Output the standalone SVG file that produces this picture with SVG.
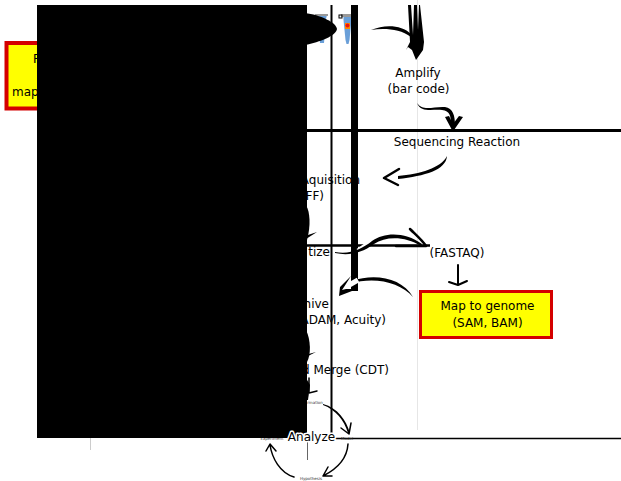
<svg xmlns="http://www.w3.org/2000/svg" width="621" height="481" viewBox="0 0 621 481">
<style>
text{font-family:"DejaVu Sans",sans-serif;font-size:12px;fill:#000;text-anchor:middle}
.e{text-anchor:end}
.s{text-anchor:start}
.tiny{font-size:4px;fill:#333}
.box{fill:#ff0;stroke:#d40000;stroke-width:4}
.c{fill:none;stroke:#000;stroke-linecap:round;stroke-linejoin:round}
.b{fill:#000;stroke:none}
.halo{fill:none;stroke:#fff;stroke-width:5}
</style>
<rect width="621" height="481" fill="#fff"/>
<g id="guides">
<path d="M417.500 0V430" stroke="#e6e6e6" stroke-width="1" fill="none"/>
<path d="M90.500 437V450" stroke="#ccc" stroke-width="1" fill="none"/>
<path d="M307.500 437V460" stroke="#666" stroke-width="1" fill="none"/>
</g>
<g id="node-left">
<rect class="box" x="6.500" y="43" width="60" height="65.500"/>
<text class="s" x="33" y="63">P</text>
<text class="s" x="12" y="96">map</text>
</g>
<g id="node-tubes">
<path d="M317 15h10l-1 4-2 24h-4l-3-24z" fill="#6a9fd8"/>
<path d="M315 14h13v2h-13z" fill="#999"/>
<path d="M343.500 17h8v3l-2 20-1 4h-2l-1-4-2-20z" fill="#6a9fd8"/>
<path d="M341 14h11v3h-11z" fill="#999"/>
<rect x="339" y="15" width="3" height="3" fill="none" stroke="#000" stroke-width="1"/>
<rect x="345" y="23" width="5" height="6" fill="#f80"/>
<circle cx="347.500" cy="25.500" r="2" fill="#e11"/>
</g>
<g id="connectors">
<path d="M331.500 5V438" stroke="#000" stroke-width="2" fill="none"/>
<path d="M354.500 5V291" stroke="#000" stroke-width="7" fill="none"/>
<path d="M307 130.500H621" stroke="#000" stroke-width="3" fill="none"/>
<path d="M307 245.500H430" stroke="#000" stroke-width="2.500" fill="none"/>
<path d="M331 438.500H621" stroke="#000" stroke-width="1.500" fill="none"/>
<path class="b" d="M371 30C385 24 402 25 411 34L411 37C400 29 385 28 371 30Z"/>
<path class="b" d="M408 5H411L413 35L414 5H417L418 30L419 5H420L424 42L423 50L416 60L412 50L408 47L406 50L410 42Z"/>
<path class="b" d="M417 103C423 112 434 106 445 107C453 108 455 116 455 125L451 125C451 116 450 111 442 110C432 109 421 113 417 103Z"/>
<path class="b" d="M445 117L449 116L453 124L459 116L463 117L454 130H452Z"/>
<path class="b" d="M447 156C446 170 425 176 398 179L398 176C420 174 441 168 447 156Z"/>
<path class="c" stroke-width="2.500" d="M399 169L384 178L398 185"/>
<path class="halo" d="M358 251L368 244"/>
<path class="b" d="M335 252C350 255 362 249 372 241C385 232 405 232 422 244L421 246C405 236 386 236 374 244C362 253 349 256 335 253Z"/>
<path class="c" stroke-width="2.500" d="M410 229C416 235 422 240 426 246H396"/>
<path class="c" stroke-width="2" d="M458 265V284M449 282L458 285L467 281"/>
<path class="b" d="M413 297C402 278 375 273 352 281L350 284C373 276 400 282 413 297Z"/>
<path class="halo" d="M344 288L358 280" stroke-width="2"/>
<path class="b" d="M351 276L340 287L339 296L352 291L358 289L346 289L342 290L344 287Z"/>
<path class="b" d="M305 236L317 232L306 239Z"/>
<path class="b" d="M305 355L316 352L306 357Z"/>
<path class="c" stroke-width="1.500" d="M309 378V393L317 391"/>
<path class="b" d="M323 404C338 408 346 420 350 433L348 433C344 420 336 410 323 405Z"/>
<path class="c" stroke-width="1.500" d="M341 428L349 434L351 423"/>
<path class="c" stroke-width="1.500" d="M348 444C347 460 335 470 323 476M328 467L323 476L332 476"/>
<path class="c" stroke-width="1.500" d="M294 477C280 473 272 458 270 445M266 451L270 444L276 451"/>
</g>
<g id="node-amplify"><text x="418" y="77">Amplify</text><text x="418.500" y="93">(bar code)</text></g>
<g id="node-sequencing"><text x="457" y="146">Sequencing Reaction</text></g>
<g id="node-aquisition"><text class="e" x="360" y="184">Aquisition</text><text class="e" x="324" y="200">FF)</text></g>
<g id="node-digitize"><text class="e" x="330" y="256">tize</text></g>
<g id="node-fastaq"><text x="457" y="257">(FASTAQ)</text></g>
<g id="node-map"><rect x="420.500" y="291.500" width="131" height="46" fill="#ff0" stroke="#d40000" stroke-width="3"/><text x="487.500" y="310">Map to genome</text><text x="487.500" y="327">(SAM, BAM)</text></g>
<g id="node-archive"><text class="e" x="329" y="308">hive</text><text class="e" x="386" y="324">ADAM, Acuity)</text></g>
<g id="node-merge"><text class="e" x="389" y="374">d Merge (CDT)</text></g>
<g id="node-annotation"><text class="tiny" x="315" y="404">rmation</text></g>
<g id="node-model"><text class="tiny" x="347" y="440">Model</text></g>
<g id="node-hypothesis"><text class="tiny" x="311" y="480">Hypothesis</text></g>
<g id="node-experiment"><text class="tiny" x="272" y="440">Experiment</text></g>
<g id="redaction">
<rect x="37" y="5" width="270" height="433" fill="#000"/>
<path d="M305 13C320 15 336 22 337 29C336 36 320 42 305 45Z" fill="#000"/>
<path d="M306 205C310 212 311 225 307 240Z" fill="#000"/>
<path d="M306 330C311 340 311 355 307 362Z" fill="#000"/>
<path d="M306 378L310 385L308 400H306Z" fill="#000"/>
</g>
<g id="node-analyze"><text x="311.500" y="441" stroke="#fff" stroke-width="3" paint-order="stroke" stroke-linejoin="round">Analyze</text></g>
</svg>
